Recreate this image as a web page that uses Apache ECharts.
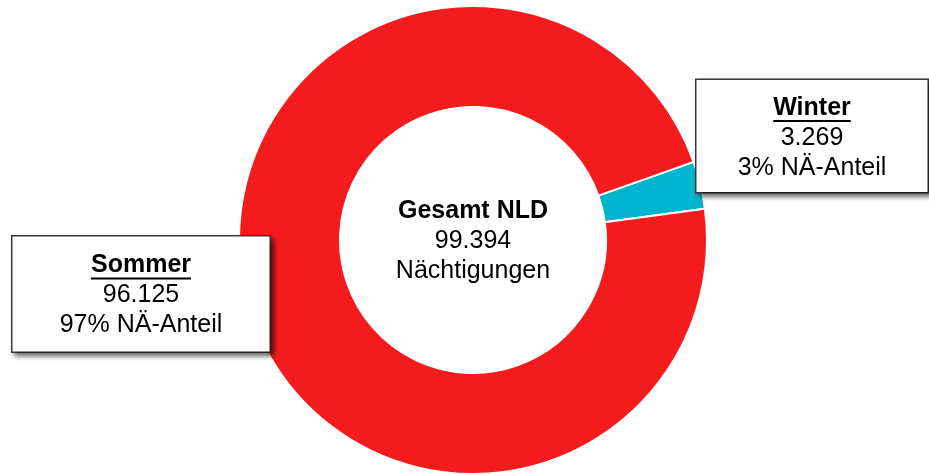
<!DOCTYPE html>
<html>
<head>
<meta charset="utf-8">
<script src="https://cdn.jsdelivr.net/npm/echarts@6/dist/echarts.min.js"></script>
<style>
  html, body { margin: 0; padding: 0; background: #fff; }
  #main { width: 929px; height: 475px; }
</style>
</head>
<body>
<div id="main"></div>
<script>
// Nächtigungen nach Saison
var categories = ['Winter', 'Sommer'];
var values = [3269, 96125];
var colors = ['#00B5CE', '#F41B1D'];
var centerTitle = 'Gesamt NLD';
var centerUnit = 'Nächtigungen';
var shareText = 'NÄ-Anteil';

var FONT = '"Liberation Sans", Arial, sans-serif';
var FS = 25;
var total = values.reduce(function(a, b) { return a + b; }, 0);

// 96125 -> "96.125"
function fmt(n) {
    return String(n).replace(/\B(?=(\d{3})+(?!\d))/g, '.');
}

// Label boxes: centre and size
var boxes = [
    {x: 812, y: 136, w: 231, pad: [13, 0, 9, 0]},
    {x: 141, y: 294, w: 257, pad: [14, 0, 11, 0]}
];

var measureCtx = document.createElement('canvas').getContext('2d');
function textWidth(text, font) {
    measureCtx.font = font;
    return measureCtx.measureText(text).width;
}

var chart = echarts.init(document.getElementById('main'));

var data = categories.map(function(name, i) {
    return {
        name: name,
        value: values[i],
        itemStyle: {color: colors[i]},
        label: {width: boxes[i].w, padding: boxes[i].pad}
    };
});

// Underlines under the bold label titles
var underlines = categories.map(function(name, i) {
    var w = textWidth(name, 'bold ' + FS + 'px ' + FONT);
    var b = boxes[i];
    var y = b.y - 45 + (b.pad[0] - b.pad[2]) / 2 + 28;
    return {
        type: 'line',
        shape: {x1: b.x - w / 2, y1: y, x2: b.x + w / 2, y2: y},
        style: {stroke: '#000', lineWidth: 2},
        z: 100
    };
});

chart.setOption({
    animation: false,
    graphic: [{
        type: 'text',
        x: 473,
        y: 241,
        style: {
            text: '{b|' + centerTitle + '}\n{n|' + fmt(total) + '}\n{n|' + centerUnit + '}',
            align: 'center',
            verticalAlign: 'middle',
            rich: {
                b: {fontFamily: FONT, fontSize: FS, fontWeight: 'bold', lineHeight: 30, fill: '#000', align: 'center'},
                n: {fontFamily: FONT, fontSize: FS, lineHeight: 30, fill: '#000', align: 'center'}
            }
        }
    }].concat(underlines),
    series: [{
        type: 'pie',
        center: [473, 240],
        radius: [133, 234],
        startAngle: 19.5,
        clockwise: true,
        silent: true,
        itemStyle: {borderColor: '#fff', borderWidth: 2},
        labelLine: {show: false},
        label: {
            show: true,
            position: 'outside',
            formatter: function(p) {
                return '{t|' + p.name + '}\n{n|' + fmt(p.value) + '}\n{n|' +
                    Math.round(p.value / total * 100) + '% ' + shareText + '}';
            },
            backgroundColor: '#fff',
            borderColor: '#3a3a3a',
            borderWidth: 1.5,
            shadowColor: 'rgba(0,0,0,0.55)',
            shadowBlur: 5,
            shadowOffsetX: 3,
            shadowOffsetY: 3,
            align: 'center',
            rich: {
                t: {fontFamily: FONT, fontSize: FS, fontWeight: 'bold', lineHeight: 30, color: '#000', align: 'center'},
                n: {fontFamily: FONT, fontSize: FS, lineHeight: 30, color: '#000', align: 'center'}
            }
        },
        labelLayout: function(params) {
            var b = boxes[params.dataIndex];
            return {x: b.x, y: b.y, align: 'center', verticalAlign: 'middle'};
        },
        data: data
    }]
});
</script>
</body>
</html>
